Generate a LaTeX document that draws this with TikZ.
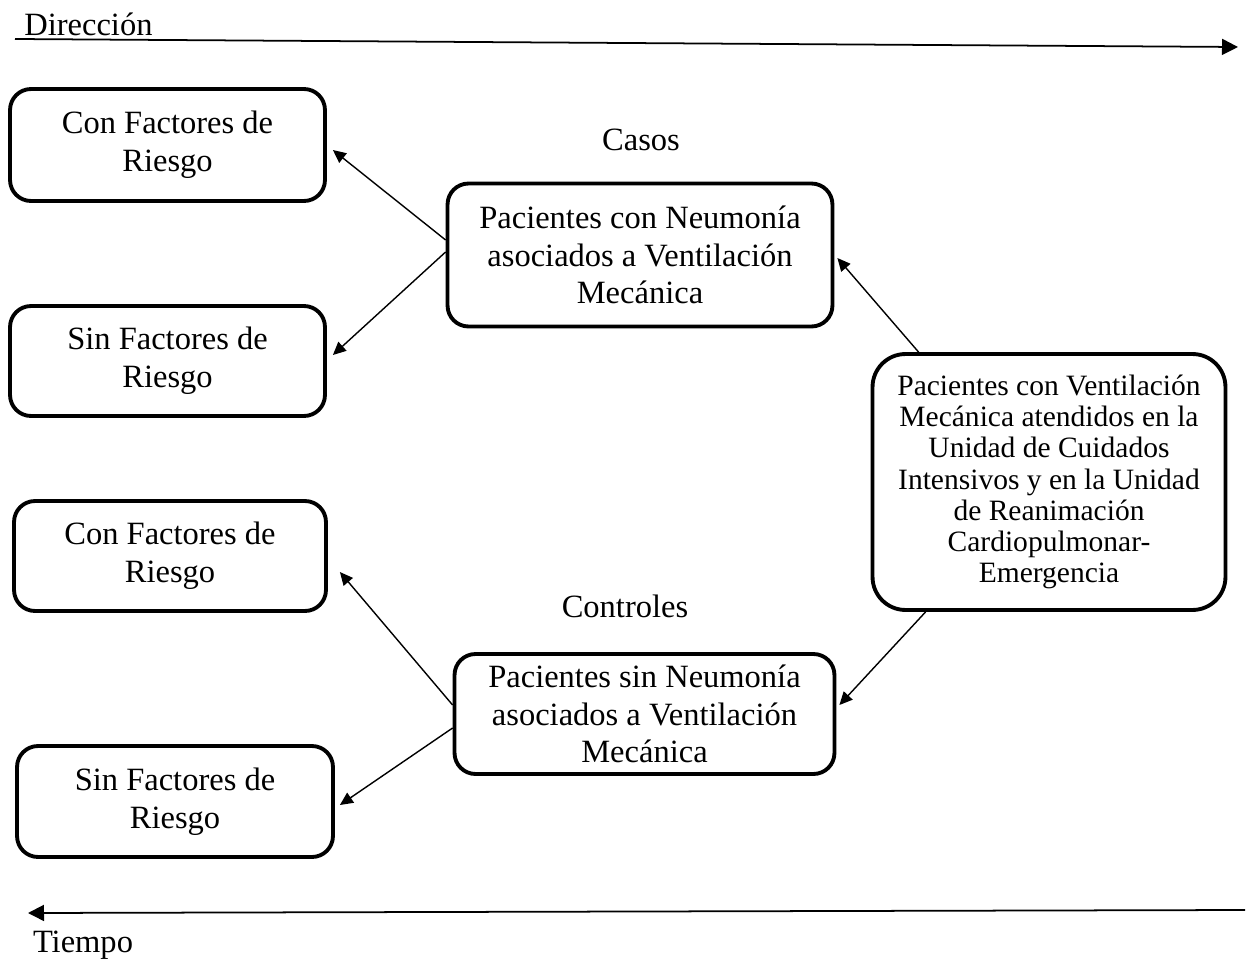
\documentclass[tikz,border=0pt]{standalone}
\usepackage{fontspec}
\setmainfont{Liberation Serif}
\usepackage{tikz}
\usetikzlibrary{arrows.meta}
\tikzset{rbox/.style={
    draw, line width=2.2pt, rounded corners=0.42cm, align=center,
    inner sep=0pt
}}
\tikzset{link/.style={
    line width=0.8pt, -{Triangle[length=0.26cm, width=0.24cm]}
}}
\tikzset{timeline/.style={
    line width=1pt, -{Triangle[length=0.32cm, width=0.32cm]}
}}

\begin{document}
\begin{tikzpicture}[x=0.02cm, y=-0.02cm, font=\fontsize{18.5}{21.5}\selectfont]
\useasboundingbox (0,0) rectangle (1252,970);

%0
\node[anchor=base west, inner sep=0pt] (dirtext) at (24,35) {Dirección};
\coordinate (dirA) at (15,39);
\coordinate (dirB) at (1238,47);
\draw[timeline] (dirA) -- (dirB);

%1
\node[rbox, minimum width=6.3cm, minimum height=2.24cm] (cfa) at (167.5,145) {Con Factores de\\Riesgo};
\node[rbox, minimum width=6.3cm, minimum height=2.2cm] (sfa) at (167.5,361) {Sin Factores de\\Riesgo};
\node (casos) at (641,140) {Casos};
\node[rbox, minimum width=7.7cm, minimum height=2.86cm] (casobox) at (640,255) {Pacientes con Neumonía\\asociados a Ventilación\\Mecánica};

%2
\node[rbox, rounded corners=0.66cm, minimum width=7.06cm, minimum height=5.12cm,
  font=\fontsize{16.8}{17.8}\selectfont] (pobl) at (1049,482)
  {Pacientes con Ventilación\\Mecánica atendidos en la\\Unidad de Cuidados\\Intensivos y en la Unidad\\de Reanimación\\Cardiopulmonar-\\Emergencia};

%3
\node[rbox, minimum width=6.24cm, minimum height=2.2cm] (cfb) at (170,556) {Con Factores de\\Riesgo};
\node[rbox, minimum width=6.32cm, minimum height=2.22cm] (sfb) at (175,801.5) {Sin Factores de\\Riesgo};
\node (controles) at (625,606) {Controles};
\node[rbox, minimum width=7.6cm, minimum height=2.4cm] (controlbox) at (644.5,714) {Pacientes sin Neumonía\\asociados a Ventilación\\Mecánica};

%4
\draw[link] ([yshift=0.3cm]casobox.west) -- ([xshift=0.12cm, yshift=-0.1cm]cfa.east);
\draw[link] ([yshift=0.06cm]casobox.west) -- ([xshift=0.12cm, yshift=0.12cm]sfa.east);
\draw[link] ([xshift=0.96cm]pobl.north west) -- ([xshift=0.06cm, yshift=-0.06cm]casobox.east);
\draw[link] ([xshift=1.1cm]pobl.south west) -- ([xshift=0.06cm, yshift=0.18cm]controlbox.east);
\draw[link] ([yshift=0.18cm]controlbox.west) -- ([xshift=0.24cm, yshift=-0.32cm]cfb.east);
\draw[link] ([yshift=-0.28cm]controlbox.west) -- ([xshift=0.1cm, yshift=-0.07cm]sfb.east);

%5
\coordinate (timeA) at (1245,910);
\coordinate (timeB) at (28,913);
\draw[timeline] (timeA) -- (timeB);
\node (tiempo) at (83,945) {Tiempo};

\end{tikzpicture}
\end{document}
